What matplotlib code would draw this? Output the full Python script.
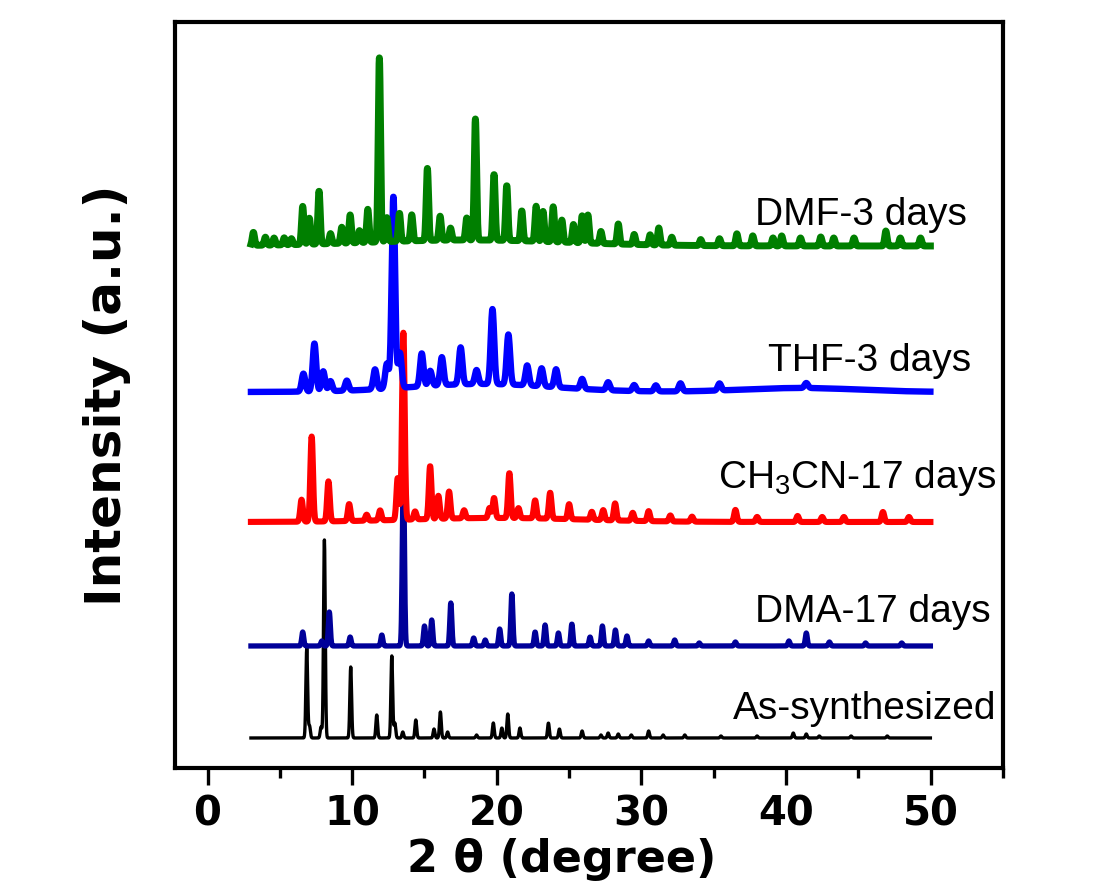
import numpy as np
import matplotlib.pyplot as plt
from matplotlib.ticker import MultipleLocator

plt.rcParams["mathtext.default"] = "regular"

# 2-theta grid of the scans
two_theta = np.arange(3.0, 50.0, 0.02)

labels = ["As-synthesized", "DMA-17 days", "CH$_3$CN-17 days", "THF-3 days", "DMF-3 days"]
colors = ["#000000", "#000099", "#ff0000", "#0000ff", "#007f00"]
offsets = [30, 122, 246, 376, 522]
sigmas = [0.06, 0.07, 0.09, 0.12, 0.08]

# peak positions (deg) and heights (a.u.)
as_pos = [6.86, 7.05, 7.85, 8.08, 9.90, 11.70, 12.74, 12.95, 13.50, 14.40, 15.66, 16.10,
          16.60, 18.60, 19.76, 20.35, 20.76, 21.60, 23.57, 24.33, 25.90, 27.20, 27.70,
          28.40, 29.30, 30.50, 31.50, 33.00, 35.50, 38.00, 40.50, 41.40, 42.30, 44.50, 47.00]
as_hgt = [90, 12, 11, 198, 71, 23, 82, 15, 6, 18, 9, 26,
          6, 3, 15, 10, 24, 10, 15, 9, 7, 3, 5,
          4, 3, 7, 3, 3, 2, 2, 5, 4, 2, 2, 2]

dma_pos = [6.58, 7.90, 8.42, 9.86, 12.05, 13.54, 15.00, 15.50, 16.82, 18.40, 19.20, 20.20,
           21.04, 22.65, 23.34, 24.26, 25.19, 26.45, 27.30, 28.20, 29.00, 30.50, 32.30,
           34.00, 36.50, 40.20, 41.40, 43.00, 45.50, 48.00]
dma_hgt = [14, 5, 34, 9, 11, 184, 20, 26, 43, 8, 6, 17,
           52, 14, 21, 13, 22, 9, 20, 16, 10, 5, 6,
           3, 4, 5, 13, 4, 3, 3]

acn_pos = [6.50, 7.20, 8.36, 9.79, 11.00, 11.93, 13.15, 13.54, 14.35, 15.39, 15.96, 16.70,
           17.74, 19.50, 19.81, 20.87, 21.50, 22.65, 23.69, 25.00, 26.57, 27.36, 28.18,
           29.40, 30.50, 32.00, 33.50, 36.50, 38.00, 40.80, 42.50, 44.00, 46.70, 48.50]
acn_hgt = [22, 85, 40, 17, 6, 10, 42, 187, 8, 53, 23, 27,
           8, 10, 20, 45, 10, 18, 26, 15, 8, 10, 17,
           8, 10, 6, 5, 12, 5, 6, 5, 5, 10, 5]

thf_pos = [6.63, 7.39, 8.00, 8.50, 9.63, 11.58, 12.40, 12.85, 13.30, 14.81, 15.40, 16.20,
           17.50, 18.60, 19.70, 20.80, 22.10, 23.10, 24.10, 25.90, 27.70, 29.50, 31.00,
           32.70, 35.40, 41.40]
thf_hgt = [18, 48, 20, 10, 10, 20, 25, 192, 35, 33, 15, 28,
           37, 14, 75, 50, 20, 18, 18, 10, 8, 6, 6,
           8, 7, 5]

dmf_pos = [3.17, 4.00, 4.60, 5.30, 5.80, 6.58, 7.04, 7.71, 8.50, 9.28, 9.86, 10.50,
           11.08, 11.88, 12.40, 13.27, 14.12, 15.20, 16.08, 16.80, 17.92, 18.52, 19.81,
           20.69, 21.73, 22.72, 23.20, 23.90, 24.50, 25.30, 25.90, 26.30, 27.20, 28.40,
           29.50, 30.60, 31.20, 32.10, 34.10, 35.40, 36.60, 37.70, 39.10, 39.70, 41.00,
           42.40, 43.30, 44.70, 46.90, 47.90, 49.30]
dmf_hgt = [13, 8, 7, 7, 6, 38, 26, 53, 10, 16, 28, 12,
           33, 184, 24, 28, 26, 72, 24, 12, 22, 121, 66,
           55, 30, 35, 30, 35, 22, 18, 27, 28, 12, 20,
           10, 10, 17, 8, 6, 7, 12, 10, 8, 10, 8,
           9, 8, 8, 15, 8, 8]

# broad amorphous humps: position, height, width
thf_hump = [(19.0, 8, 5.0), (41.0, 4, 4.0)]
dmf_hump = [(18.0, 6, 7.0)]
acn_hump = [(20.0, 4, 6.0)]

peak_sets = [(as_pos, as_hgt, []), (dma_pos, dma_hgt, []), (acn_pos, acn_hgt, acn_hump),
             (thf_pos, thf_hgt, thf_hump), (dmf_pos, dmf_hgt, dmf_hump)]

label_x = [36.34, 37.86, 35.3, 38.76, 37.86]
label_y = [49, 146, 280, 397, 543]
line_w = [2.4, 3.8, 4.4, 4.6, 5.0]


def pattern(pos, hgt, humps, sigma):
    y = np.zeros_like(two_theta)
    for p, h in zip(pos, hgt):
        y += h * np.exp(-0.5 * ((two_theta - p) / sigma) ** 2)
    for p, h, w in humps:
        y += h * np.exp(-0.5 * ((two_theta - p) / w) ** 2)
    return y


fig = plt.figure(figsize=(11, 8.93), dpi=100)
ax = fig.add_axes([0.1591, 0.140, 0.7527, 0.8354])

for (pos, hgt, humps), off, s, c, lw in zip(peak_sets, offsets, sigmas, colors, line_w):
    ax.plot(two_theta, off + pattern(pos, hgt, humps, s), color=c, lw=lw,
            solid_joinstyle="round")

for lab, lx, ly in zip(labels, label_x, label_y):
    ax.text(lx, ly, lab, fontsize=28, family="Liberation Sans", va="baseline", ha="left")

ax.set_xlim(-2.25, 55)
ax.set_ylim(0, 746)
ax.xaxis.set_major_locator(MultipleLocator(10))
ax.xaxis.set_minor_locator(MultipleLocator(5))
ax.set_yticks([])
ax.tick_params(axis="x", which="major", direction="out", length=12, width=2.4, pad=7)
ax.tick_params(axis="x", which="minor", direction="out", length=7, width=2.4)
for lbl in ax.get_xticklabels():
    lbl.set_fontsize(29)
    lbl.set_fontweight("bold")
    lbl.set_family("DejaVu Sans")
for sp in ax.spines.values():
    sp.set_linewidth(3)

ax.set_xlabel("2 \u03b8 (degree)", fontsize=32, fontweight="bold", family="DejaVu Sans")
ax.xaxis.set_label_coords(0.467, -0.094)
ax.set_ylabel("Intensity (a.u.)", fontsize=36, fontweight="bold", family="DejaVu Sans")
ax.yaxis.set_label_coords(-0.053, 0.5)

fig.savefig("out.png", dpi=100)
plt.close(fig)
